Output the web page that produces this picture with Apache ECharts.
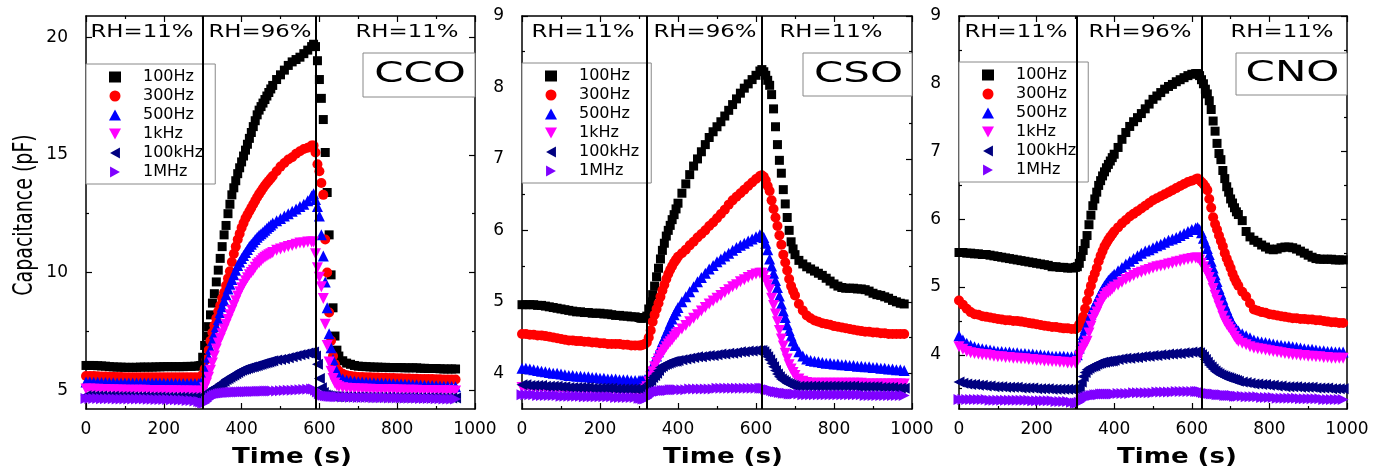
<!DOCTYPE html>
<html>
<head>
<meta charset="utf-8">
<title>Capacitance vs time</title>
<script src="https://cdn.jsdelivr.net/npm/echarts@6/dist/echarts.min.js"></script>
<style>
html, body { margin: 0; padding: 0; background: #fff; }
#chart { width: 1385px; height: 471px; }
</style>
</head>
<body>
<div id="chart"></div>
<script>
// ---------- data ----------
const freqNames = ["100Hz", "300Hz", "500Hz", "1kHz", "100kHz", "1MHz"]

// CCO
const ccoTime = [0,10,20,30,40,50,60,70,80,90,100,110,120,130,140,150,160,170,180,190,200,210,220,230,240,250,260,270,280,290,295,
  300,305,310,315,320,325,330,335,340,345,350,355,360,365,370,375,380,385,390,395,400,405,410,415,420,425,430,435,440,445,450,455,460,465,470,475,
  480,490,500,510,520,530,540,550,560,570,580,
  585,590,595,600,605,610,615,620,625,630,635,640,645,650,
  660,670,680,690,700,710,720,730,740,750,760,770,780,790,800,810,820,830,840,850,860,870,880,890,900,910,920,930,940,950]
const cco100Hz = [6.05,6.05,6.05,6.04,6.03,6.02,6.0,5.99,5.98,5.98,5.97,5.97,5.97,5.97,5.98,5.98,5.98,5.98,5.99,5.99,6.0,6.0,6.0,6.0,6.0,6.0,6.01,6.01,6.02,6.03,6.05,
  6.4,6.9,7.3,7.7,8.2,8.7,9.1,9.6,10.1,10.6,11.1,11.6,12.0,12.5,12.9,13.3,13.6,13.9,14.2,14.45,14.7,14.95,15.2,15.45,15.7,15.95,16.2,16.45,16.7,16.9,17.05,17.2,17.35,17.5,17.65,17.8,
  17.95,18.2,18.4,18.6,18.8,18.95,19.05,19.15,19.3,19.45,19.6,
  19.7,19.6,19.0,18.2,17.4,16.5,15.1,13.4,11.6,9.9,8.5,7.3,6.7,6.45,
  6.25,6.15,6.1,6.05,6.02,6.01,6.0,5.99,5.98,5.98,5.97,5.97,5.96,5.96,5.96,5.96,5.95,5.95,5.95,5.95,5.93,5.93,5.92,5.92,5.92,5.91,5.9,5.9,5.9,5.9]
const cco300Hz = [5.6,5.6,5.6,5.59,5.58,5.58,5.57,5.57,5.56,5.56,5.55,5.55,5.55,5.55,5.55,5.55,5.55,5.55,5.55,5.55,5.55,5.55,5.55,5.55,5.55,5.55,5.55,5.55,5.55,5.55,5.56,
  5.65,5.9,6.3,6.7,7.1,7.45,7.75,8.05,8.35,8.6,8.9,9.15,9.45,9.75,10.05,10.45,10.8,11.1,11.4,11.65,11.9,12.1,12.3,12.45,12.6,12.75,12.9,13.05,13.2,13.33,13.45,13.58,13.7,13.8,13.9,14.0,
  14.1,14.3,14.5,14.65,14.8,14.9,15.05,15.15,15.25,15.3,15.4,
  15.4,15.1,14.6,14.3,13.8,13.3,11.4,10.0,8.3,7.1,6.45,6.1,5.9,5.8,
  5.7,5.63,5.6,5.58,5.56,5.56,5.55,5.55,5.54,5.54,5.53,5.53,5.52,5.52,5.51,5.51,5.5,5.5,5.49,5.49,5.48,5.48,5.47,5.47,5.46,5.46,5.45,5.45,5.45,5.45]
const cco500Hz = [5.35,5.35,5.34,5.34,5.33,5.33,5.32,5.32,5.31,5.31,5.3,5.3,5.3,5.3,5.3,5.3,5.3,5.3,5.3,5.3,5.29,5.29,5.29,5.29,5.28,5.28,5.28,5.28,5.28,5.28,5.28,
  5.35,5.6,6.0,6.4,6.75,7.1,7.4,7.7,8.0,8.3,8.55,8.8,9.05,9.3,9.5,9.7,9.9,10.1,10.3,10.45,10.6,10.72,10.85,10.98,11.1,11.2,11.3,11.4,11.5,11.58,11.65,11.72,11.8,11.88,11.95,12.02,
  12.1,12.2,12.3,12.4,12.5,12.6,12.7,12.8,12.9,13.05,13.25,
  13.35,13.1,12.8,12.4,11.6,10.7,9.6,8.5,7.4,6.8,6.3,5.95,5.75,5.6,
  5.48,5.42,5.4,5.38,5.36,5.35,5.34,5.33,5.32,5.31,5.3,5.29,5.28,5.27,5.26,5.26,5.25,5.24,5.23,5.23,5.22,5.21,5.2,5.2,5.19,5.18,5.17,5.17,5.16,5.15]
const cco1kHz = [5.05,5.05,5.04,5.04,5.03,5.03,5.02,5.02,5.01,5.01,5.0,5.0,5.0,5.0,5.0,5.0,4.99,4.99,4.99,4.99,4.98,4.98,4.98,4.98,4.97,4.97,4.96,4.96,4.95,4.95,4.95,
  4.95,5.1,5.3,5.55,5.85,6.15,6.45,6.75,7.0,7.2,7.4,7.6,7.8,8.0,8.2,8.4,8.6,8.8,9.0,9.18,9.35,9.5,9.65,9.78,9.9,10.0,10.1,10.22,10.35,10.42,10.5,10.58,10.65,10.7,10.75,10.8,
  10.85,10.95,11.0,11.05,11.1,11.15,11.2,11.25,11.25,11.3,11.3,
  11.3,10.8,10.2,9.8,9.4,8.9,7.8,6.9,6.2,5.8,5.5,5.3,5.2,5.15,
  5.1,5.08,5.07,5.06,5.05,5.05,5.04,5.04,5.03,5.03,5.02,5.02,5.02,5.02,5.01,5.01,5.0,5.0,5.0,5.0,4.99,4.99,4.99,4.99,4.98,4.98,4.98,4.98,4.97,4.97]
const cco100kHz = [4.76,4.76,4.75,4.75,4.75,4.74,4.74,4.74,4.73,4.73,4.73,4.73,4.72,4.72,4.72,4.72,4.71,4.71,4.71,4.71,4.7,4.7,4.7,4.7,4.7,4.7,4.69,4.69,4.69,4.69,4.7,
  4.72,4.78,4.86,4.93,5.0,5.05,5.1,5.15,5.2,5.26,5.32,5.38,5.45,5.5,5.55,5.6,5.65,5.7,5.75,5.8,5.85,5.88,5.9,5.93,5.95,5.98,6.0,6.03,6.05,6.08,6.1,6.13,6.15,6.18,6.2,6.23,
  6.25,6.28,6.3,6.34,6.38,6.42,6.46,6.5,6.54,6.58,6.62,
  6.62,6.45,6.1,5.5,5.1,4.9,4.8,4.77,4.75,4.74,4.73,4.73,4.72,4.72,
  4.72,4.72,4.71,4.71,4.71,4.71,4.7,4.7,4.7,4.7,4.7,4.7,4.7,4.69,4.69,4.69,4.69,4.69,4.69,4.68,4.68,4.68,4.68,4.68,4.68,4.67,4.67,4.67,4.67,4.67]
const cco1MHz = [4.65,4.65,4.65,4.65,4.64,4.64,4.64,4.64,4.63,4.63,4.63,4.63,4.62,4.62,4.62,4.62,4.61,4.61,4.6,4.6,4.6,4.6,4.59,4.59,4.58,4.58,4.56,4.56,4.54,4.52,4.5,
  4.46,4.45,4.52,4.6,4.68,4.74,4.78,4.81,4.84,4.86,4.87,4.88,4.89,4.9,4.9,4.91,4.91,4.92,4.92,4.92,4.93,4.93,4.93,4.93,4.94,4.94,4.94,4.94,4.95,4.95,4.95,4.95,4.96,4.96,4.96,4.96,
  4.97,4.97,4.98,4.99,5.0,5.0,5.01,5.02,5.03,5.04,5.05,
  5.05,5.0,4.92,4.85,4.8,4.78,4.76,4.75,4.74,4.73,4.73,4.72,4.72,4.72,
  4.71,4.71,4.7,4.7,4.69,4.69,4.69,4.69,4.68,4.68,4.68,4.68,4.67,4.67,4.67,4.67,4.66,4.66,4.66,4.66,4.65,4.65,4.65,4.65,4.64,4.64,4.63,4.63,4.63,4.62]

// CSO
const csoTime = [0,10,20,30,40,50,60,70,80,90,100,110,120,130,140,150,160,170,180,190,200,210,220,230,240,250,260,270,280,290,300,
  305,310,315,320,325,330,335,340,345,350,355,360,365,370,375,380,385,390,395,400,
  410,420,430,440,450,460,470,480,490,500,510,520,530,540,550,560,570,580,590,600,610,
  615,620,625,630,635,640,645,650,655,660,665,670,675,680,685,690,695,700,
  710,720,730,740,750,760,770,780,790,800,810,820,830,840,850,860,870,880,890,900,910,920,930,940,950,960,970,980]
const cso100Hz = [4.96,4.96,4.96,4.96,4.95,4.95,4.94,4.93,4.92,4.91,4.9,4.89,4.88,4.87,4.86,4.86,4.85,4.85,4.84,4.84,4.84,4.83,4.83,4.82,4.81,4.81,4.8,4.8,4.79,4.79,4.78,
  4.77,4.77,4.78,4.8,4.9,5.0,5.1,5.22,5.35,5.47,5.6,5.72,5.82,5.92,6.0,6.07,6.15,6.22,6.3,6.38,
  6.52,6.65,6.78,6.9,7.0,7.1,7.2,7.3,7.38,7.45,7.52,7.6,7.68,7.76,7.84,7.92,7.99,8.05,8.11,8.17,8.23,
  8.25,8.22,8.17,8.1,8.03,7.9,7.7,7.45,7.2,6.98,6.8,6.57,6.37,6.18,6.0,5.84,5.74,5.66,
  5.58,5.53,5.49,5.46,5.43,5.4,5.37,5.33,5.29,5.25,5.22,5.2,5.19,5.19,5.19,5.18,5.18,5.17,5.15,5.12,5.1,5.09,5.07,5.05,5.02,5.0,4.98,4.97]
const cso300Hz = [4.55,4.55,4.54,4.54,4.53,4.53,4.52,4.51,4.5,4.49,4.48,4.47,4.46,4.46,4.45,4.45,4.44,4.44,4.43,4.43,4.42,4.42,4.41,4.41,4.41,4.41,4.4,4.4,4.39,4.39,4.39,
  4.39,4.4,4.41,4.43,4.5,4.6,4.72,4.82,4.9,4.98,5.07,5.16,5.24,5.32,5.39,5.45,5.5,5.55,5.59,5.63,
  5.68,5.73,5.79,5.84,5.9,5.95,6.0,6.06,6.11,6.17,6.23,6.29,6.36,6.42,6.47,6.52,6.57,6.62,6.67,6.72,6.76,
  6.77,6.75,6.7,6.62,6.55,6.42,6.3,6.18,6.06,5.93,5.8,5.66,5.55,5.44,5.32,5.22,5.15,5.09,
  4.97,4.88,4.81,4.77,4.74,4.72,4.7,4.69,4.68,4.66,4.65,4.64,4.63,4.62,4.61,4.6,4.59,4.58,4.58,4.57,4.57,4.56,4.56,4.55,4.55,4.55,4.55,4.55]
const cso500Hz = [4.07,4.07,4.06,4.05,4.04,4.03,4.02,4.01,4.0,4.0,3.99,3.98,3.97,3.97,3.96,3.96,3.95,3.95,3.94,3.94,3.93,3.93,3.92,3.92,3.92,3.91,3.91,3.91,3.9,3.9,3.9,
  3.9,3.9,3.91,3.93,3.98,4.04,4.1,4.17,4.24,4.3,4.37,4.44,4.5,4.57,4.63,4.7,4.76,4.82,4.87,4.92,
  5.0,5.07,5.14,5.21,5.28,5.34,5.4,5.46,5.51,5.56,5.6,5.64,5.68,5.72,5.76,5.79,5.82,5.85,5.88,5.91,5.94,
  5.94,5.9,5.82,5.73,5.6,5.5,5.4,5.3,5.2,5.08,4.97,4.87,4.78,4.68,4.6,4.52,4.45,4.39,
  4.3,4.24,4.2,4.18,4.17,4.16,4.15,4.14,4.14,4.13,4.13,4.12,4.12,4.11,4.11,4.1,4.1,4.09,4.09,4.08,4.08,4.07,4.07,4.06,4.06,4.05,4.05,4.04]
const cso1kHz = [3.8,3.8,3.8,3.79,3.79,3.79,3.78,3.78,3.78,3.78,3.78,3.77,3.77,3.77,3.77,3.77,3.76,3.76,3.76,3.76,3.76,3.76,3.76,3.76,3.75,3.75,3.75,3.75,3.75,3.75,3.75,
  3.75,3.76,3.78,3.81,3.88,3.95,4.02,4.09,4.15,4.2,4.25,4.29,4.33,4.37,4.41,4.44,4.47,4.51,4.54,4.57,
  4.62,4.67,4.72,4.77,4.82,4.87,4.92,4.97,5.01,5.05,5.09,5.13,5.17,5.21,5.24,5.28,5.31,5.34,5.37,5.39,5.4,
  5.4,5.36,5.3,5.24,5.17,5.05,4.95,4.83,4.72,4.6,4.48,4.38,4.28,4.2,4.12,4.06,4.01,3.97,
  3.92,3.89,3.87,3.86,3.86,3.86,3.86,3.86,3.86,3.86,3.86,3.86,3.86,3.86,3.86,3.86,3.86,3.85,3.85,3.85,3.85,3.85,3.85,3.85,3.85,3.85,3.85,3.85]
const cso100kHz = [3.84,3.84,3.83,3.83,3.83,3.83,3.82,3.82,3.82,3.82,3.81,3.81,3.8,3.8,3.8,3.8,3.8,3.8,3.79,3.79,3.79,3.79,3.79,3.79,3.78,3.78,3.78,3.78,3.78,3.78,3.78,
  3.78,3.78,3.79,3.82,3.86,3.9,3.94,3.97,4.0,4.04,4.08,4.1,4.12,4.13,4.14,4.15,4.16,4.17,4.17,4.18,
  4.19,4.2,4.21,4.22,4.23,4.23,4.24,4.25,4.25,4.26,4.27,4.27,4.28,4.28,4.29,4.3,4.3,4.31,4.31,4.32,4.32,
  4.32,4.3,4.27,4.23,4.19,4.14,4.09,4.04,3.99,3.95,3.92,3.9,3.88,3.86,3.85,3.84,3.83,3.82,
  3.82,3.82,3.82,3.82,3.82,3.82,3.82,3.82,3.82,3.82,3.82,3.82,3.82,3.82,3.82,3.81,3.81,3.81,3.81,3.81,3.81,3.8,3.8,3.8,3.8,3.79,3.79,3.79]
const cso1MHz = [3.7,3.7,3.7,3.7,3.69,3.69,3.69,3.69,3.69,3.69,3.68,3.68,3.68,3.68,3.68,3.68,3.67,3.67,3.67,3.67,3.67,3.67,3.67,3.67,3.66,3.66,3.66,3.66,3.66,3.66,3.65,
  3.65,3.64,3.64,3.65,3.67,3.7,3.72,3.73,3.74,3.75,3.75,3.76,3.76,3.76,3.76,3.77,3.77,3.77,3.77,3.77,
  3.77,3.77,3.78,3.78,3.78,3.78,3.78,3.78,3.78,3.79,3.79,3.79,3.79,3.79,3.79,3.79,3.79,3.79,3.79,3.79,3.79,
  3.79,3.79,3.78,3.77,3.77,3.76,3.75,3.74,3.74,3.73,3.73,3.72,3.72,3.72,3.71,3.71,3.71,3.71,
  3.71,3.7,3.7,3.7,3.7,3.7,3.7,3.7,3.7,3.7,3.7,3.7,3.7,3.7,3.7,3.7,3.7,3.69,3.69,3.69,3.69,3.69,3.69,3.69,3.69,3.69,3.69,3.69]

// CNO
const cnoTime = [0,10,20,30,40,50,60,70,80,90,100,110,120,130,140,150,160,170,180,190,200,210,220,230,240,250,260,270,280,290,300,
  305,310,315,320,325,330,335,340,345,350,355,360,365,370,375,380,385,390,395,400,
  410,420,430,440,450,460,470,480,490,500,510,520,530,540,550,560,570,580,590,600,610,
  615,620,625,630,635,640,645,650,655,660,665,670,675,680,685,690,695,700,705,710,715,720,
  730,740,750,760,770,780,790,800,810,820,830,840,850,860,870,880,890,900,910,920,930,940,950,960,970,980,990]
const cno100Hz = [5.51,5.51,5.5,5.5,5.49,5.49,5.48,5.48,5.47,5.46,5.45,5.44,5.43,5.42,5.41,5.4,5.39,5.38,5.37,5.36,5.35,5.34,5.33,5.32,5.3,5.3,5.29,5.29,5.28,5.28,5.29,
  5.3,5.35,5.45,5.54,5.64,5.76,5.92,6.06,6.2,6.3,6.4,6.5,6.57,6.64,6.7,6.76,6.81,6.86,6.91,6.96,
  7.06,7.18,7.28,7.37,7.44,7.5,7.56,7.63,7.7,7.77,7.82,7.87,7.92,7.96,7.99,8.03,8.06,8.09,8.12,8.14,8.15,
  8.15,8.12,8.06,8.0,7.92,7.85,7.75,7.62,7.45,7.3,7.12,6.97,6.88,6.72,6.6,6.48,6.4,6.3,6.24,6.17,6.11,6.07,
  5.98,5.82,5.74,5.69,5.66,5.62,5.59,5.56,5.55,5.56,5.58,5.59,5.59,5.58,5.56,5.53,5.5,5.47,5.44,5.42,5.41,5.41,5.41,5.41,5.4,5.4,5.4]
const cno300Hz = [4.8,4.74,4.68,4.63,4.6,4.59,4.57,4.56,4.55,4.54,4.53,4.52,4.51,4.51,4.5,4.5,4.49,4.48,4.47,4.46,4.45,4.44,4.43,4.42,4.41,4.41,4.4,4.39,4.39,4.38,4.38,
  4.4,4.45,4.5,4.56,4.68,4.8,4.92,5.02,5.12,5.2,5.28,5.38,5.46,5.53,5.6,5.65,5.7,5.74,5.78,5.82,
  5.88,5.94,5.99,6.04,6.08,6.12,6.16,6.2,6.24,6.28,6.31,6.34,6.37,6.4,6.43,6.46,6.49,6.52,6.55,6.57,6.59,
  6.6,6.58,6.55,6.52,6.48,6.43,6.3,6.17,6.03,5.93,5.85,5.76,5.68,5.6,5.5,5.42,5.35,5.28,5.2,5.13,5.07,5.02,
  4.93,4.86,4.76,4.67,4.65,4.63,4.62,4.6,4.59,4.58,4.57,4.56,4.55,4.54,4.54,4.53,4.53,4.52,4.52,4.51,4.51,4.5,4.49,4.48,4.48,4.47,4.47]
const cno500Hz = [4.28,4.22,4.17,4.14,4.12,4.1,4.09,4.08,4.07,4.06,4.05,4.05,4.04,4.04,4.03,4.03,4.02,4.02,4.01,4.01,4.0,4.0,3.99,3.99,3.98,3.98,3.98,3.98,3.97,3.97,3.97,
  4.0,4.1,4.2,4.3,4.38,4.45,4.52,4.6,4.68,4.74,4.8,4.86,4.92,4.97,5.02,5.06,5.1,5.13,5.16,5.19,
  5.24,5.29,5.34,5.38,5.42,5.46,5.5,5.53,5.55,5.58,5.61,5.63,5.66,5.69,5.71,5.73,5.76,5.79,5.82,5.85,5.87,
  5.88,5.85,5.8,5.72,5.65,5.57,5.48,5.38,5.28,5.18,5.08,4.98,4.9,4.82,4.74,4.67,4.6,4.53,4.47,4.42,4.38,4.35,
  4.31,4.28,4.25,4.22,4.2,4.19,4.18,4.17,4.16,4.15,4.14,4.13,4.13,4.12,4.11,4.1,4.09,4.08,4.08,4.07,4.06,4.06,4.05,4.05,4.04,4.04,4.04]
const cno1kHz = [4.12,4.08,4.05,4.03,4.02,4.01,4.0,4.0,3.99,3.98,3.97,3.97,3.96,3.96,3.95,3.95,3.94,3.94,3.93,3.93,3.92,3.92,3.91,3.91,3.9,3.9,3.89,3.89,3.88,3.88,3.88,
  3.9,3.98,4.05,4.1,4.15,4.2,4.32,4.42,4.52,4.58,4.63,4.7,4.76,4.82,4.86,4.9,4.92,4.94,4.97,5.0,
  5.03,5.07,5.11,5.14,5.17,5.2,5.22,5.24,5.26,5.28,5.3,5.31,5.32,5.34,5.35,5.37,5.38,5.4,5.41,5.42,5.43,
  5.43,5.4,5.35,5.3,5.25,5.2,5.14,5.07,4.98,4.88,4.8,4.72,4.65,4.57,4.5,4.45,4.41,4.37,4.32,4.27,4.23,4.2,
  4.17,4.15,4.12,4.1,4.09,4.08,4.07,4.06,4.05,4.04,4.03,4.02,4.01,4.0,4.0,3.99,3.99,3.98,3.98,3.97,3.97,3.96,3.96,3.95,3.95,3.95,3.95]
const cno100kHz = [3.6,3.58,3.57,3.56,3.56,3.55,3.55,3.54,3.54,3.53,3.53,3.53,3.52,3.52,3.52,3.52,3.51,3.51,3.51,3.51,3.5,3.5,3.5,3.5,3.49,3.49,3.49,3.49,3.49,3.49,3.49,
  3.5,3.53,3.6,3.68,3.74,3.78,3.8,3.82,3.83,3.84,3.86,3.87,3.88,3.89,3.89,3.9,3.9,3.91,3.91,3.92,
  3.93,3.94,3.95,3.95,3.96,3.96,3.97,3.98,3.98,3.99,3.99,4.0,4.0,4.01,4.01,4.02,4.02,4.03,4.03,4.04,4.04,
  4.04,4.03,4.0,3.97,3.93,3.89,3.85,3.82,3.79,3.76,3.74,3.72,3.7,3.69,3.68,3.67,3.66,3.65,3.64,3.63,3.62,3.61,
  3.6,3.59,3.58,3.57,3.57,3.56,3.56,3.55,3.55,3.54,3.54,3.53,3.53,3.53,3.53,3.52,3.52,3.52,3.52,3.51,3.51,3.51,3.51,3.5,3.5,3.5,3.5]
const cno1MHz = [3.34,3.34,3.34,3.34,3.34,3.34,3.34,3.34,3.33,3.33,3.33,3.33,3.33,3.33,3.33,3.33,3.33,3.33,3.33,3.32,3.32,3.32,3.32,3.32,3.32,3.31,3.31,3.31,3.31,3.3,3.29,
  3.29,3.3,3.32,3.35,3.37,3.38,3.39,3.4,3.4,3.41,3.41,3.41,3.42,3.42,3.42,3.42,3.42,3.42,3.42,3.42,
  3.43,3.43,3.43,3.43,3.44,3.44,3.44,3.44,3.44,3.44,3.45,3.45,3.45,3.45,3.45,3.46,3.46,3.46,3.46,3.46,3.46,
  3.46,3.46,3.45,3.44,3.44,3.43,3.43,3.42,3.42,3.42,3.41,3.41,3.41,3.41,3.4,3.4,3.4,3.4,3.4,3.39,3.39,3.39,
  3.39,3.38,3.38,3.38,3.38,3.37,3.37,3.37,3.37,3.36,3.36,3.36,3.36,3.36,3.36,3.35,3.35,3.35,3.35,3.35,3.35,3.34,3.34,3.34,3.34,3.34,3.34]

// y ticks of each panel
const ccoMajor = [5, 10, 15, 20], ccoMinor = [7.5, 12.5, 17.5]
const csoMajor = [4, 5, 6, 7, 8, 9], csoMinor = [4.5, 5.5, 6.5, 7.5, 8.5]
const cnoMajor = [4, 5, 6, 7, 8, 9], cnoMinor = [3.5, 4.5, 5.5, 6.5, 7.5, 8.5]

// ---------- styling ----------
const FONT = "DejaVu Sans"
const colors = ["#000000", "#ff0000", "#0000ff", "#ff00ff", "#000080", "#7f00ff"]
const symbols = ["rect", "circle", "triangle", "triangle", "triangle", "triangle"]
const rotates = [0, 0, 0, 180, 90, -90]
const sizes = [9, 10, 11, 11, 11, 11]
// legend icons (legend does not pick up the marker rotation)
const legendIcons = ["rect", "circle", "triangle",
  "path://M0,0L10,0L5,9Z", "path://M9,0L9,10L0,5Z", "path://M0,0L0,10L9,5Z"]

const panels = [
  { name: "CCO", time: ccoTime, vals: [cco100Hz, cco300Hz, cco500Hz, cco1kHz, cco100kHz, cco1MHz],
    ymin: 4.2, ymax: 20.9, major: ccoMajor, minor: ccoMinor, lines: [300, 590],
    left: 86, width: 389, rh: [142, 260, 407], box: [363, 53, 112, 44], timeX: 292, legTop: 64 },
  { name: "CSO", time: csoTime, vals: [cso100Hz, cso300Hz, cso500Hz, cso1kHz, cso100kHz, cso1MHz],
    ymin: 3.5, ymax: 9, major: csoMajor, minor: csoMinor, lines: [320, 615],
    left: 522, width: 390, rh: [583, 705, 831], box: [803, 53, 109, 43], timeX: 723, legTop: 63 },
  { name: "CNO", time: cnoTime, vals: [cno100Hz, cno300Hz, cno500Hz, cno1kHz, cno100kHz, cno1MHz],
    ymin: 3.2, ymax: 9, major: cnoMajor, minor: cnoMinor, lines: [304, 626],
    left: 959, width: 388, rh: [1016, 1140, 1282], box: [1236, 53, 111, 42], timeX: 1177, legTop: 62 },
]
const TOP = 16, HEIGHT = 393

panels.forEach((p) => {
  p.vals.forEach((v, i) => {
    if (v.length !== p.time.length) throw new Error(p.name + " " + freqNames[i] + " length " + v.length + " vs " + p.time.length)
  })
})

const axisLine = { show: true, lineStyle: { color: "#000", width: 1.5 } }
const grids = [], xAxes = [], yAxes = [], series = [], legends = [], graphics = []

panels.forEach((p, k) => {
  grids.push({ left: p.left, top: TOP, width: p.width, height: HEIGHT, containLabel: false })

  const xBase = {
    gridIndex: k, type: "value", min: 0, max: 1000, interval: 200,
    axisLine, splitLine: { show: false },
    axisTick: { inside: true, length: 6, lineStyle: { color: "#000", width: 1.2 } },
    minorTick: { show: true, splitNumber: 2, length: 3, lineStyle: { color: "#000", width: 1.2 } },
  }
  xAxes.push({ ...xBase, position: "bottom",
    axisLabel: { color: "#000", fontFamily: FONT, fontSize: 17, margin: 12, formatter: (v) => String(v) } })
  xAxes.push({ ...xBase, position: "top", axisLabel: { show: false } })

  const yBase = { gridIndex: k, type: "value", min: p.ymin, max: p.ymax, splitLine: { show: false } }
  const tick = (vals, len) => ({ inside: true, length: len, customValues: vals, lineStyle: { color: "#000", width: 1.2 } })
  yAxes.push({ ...yBase, position: "left", axisLine, axisTick: tick(p.major, 6),
    axisLabel: { customValues: p.major, color: "#000", fontFamily: FONT, fontSize: 17, margin: 18 } })
  yAxes.push({ ...yBase, position: "left", axisLine: { show: false }, axisTick: tick(p.minor, 3), axisLabel: { show: false } })
  yAxes.push({ ...yBase, position: "right", axisLine, axisTick: tick(p.major, 6), axisLabel: { show: false } })
  yAxes.push({ ...yBase, position: "right", axisLine: { show: false }, axisTick: tick(p.minor, 3), axisLabel: { show: false } })

  freqNames.forEach((nm, i) => {
    const s = {
      name: nm, type: "scatter", xAxisIndex: k * 2, yAxisIndex: k * 4,
      symbol: symbols[i], symbolRotate: rotates[i], symbolSize: sizes[i],
      itemStyle: { color: colors[i], opacity: 1 },
      data: p.time.map((t, j) => [t, p.vals[i][j]]),
    }
    if (i === 0) {
      s.markLine = {
        silent: true, symbol: "none", label: { show: false },
        lineStyle: { color: "#000", width: 2, type: "solid" },
        data: p.lines.map((x) => ({ xAxis: x })),
      }
    }
    series.push(s)
  })

  legends.push({
    left: p.left, top: p.legTop, orient: "vertical", selectedMode: false,
    data: freqNames.map((nm, i) => ({ name: nm, icon: legendIcons[i] })),
    itemWidth: 12, itemHeight: 11, itemGap: 3,
    padding: [5, 12, 4, 23],
    borderColor: "#888", borderWidth: 1, backgroundColor: "#fff",
    textStyle: { fontFamily: FONT, fontSize: 16, color: "#000", lineHeight: 16, padding: [0, 0, 0, 17] },
  })

  // region labels
  ;["RH=11%", "RH=96%", "RH=11%"].forEach((txt, j) => {
    graphics.push({ type: "text", x: p.rh[j], y: 32, scaleX: 1.27,
      style: { text: txt, fill: "#000", font: "18px " + FONT, textAlign: "center", textVerticalAlign: "middle" } })
  })
  const [bx, by, bw, bh] = p.box
  graphics.push({ type: "rect", shape: { x: bx, y: by, width: bw, height: bh },
    style: { fill: "#fff", stroke: "#888", lineWidth: 1 }, z: 10 })
  graphics.push({ type: "text", x: bx + bw / 2 + 1, y: by + bh / 2, scaleX: 1.5, z: 11,
    style: { text: p.name, fill: "#000", font: "28px " + FONT, textAlign: "center", textVerticalAlign: "middle" } })
  graphics.push({ type: "text", x: p.timeX, y: 458, scaleX: 1.24,
    style: { text: "Time (s)", fill: "#000", font: "bold 21px " + FONT, textAlign: "center", textVerticalAlign: "middle" } })
})

graphics.push({ type: "text", x: 25, y: 215, rotation: Math.PI / 2, scaleY: 1.4,
  style: { text: "Capacitance (pF)", fill: "#000", font: "19px " + FONT, textAlign: "center", textVerticalAlign: "middle" } })

const chart = echarts.init(document.getElementById("chart"))
chart.setOption({
  animation: false,
  backgroundColor: "#fff",
  grid: grids,
  xAxis: xAxes,
  yAxis: yAxes,
  legend: legends,
  series,
  graphic: { elements: graphics },
})
</script>
</body>
</html>
